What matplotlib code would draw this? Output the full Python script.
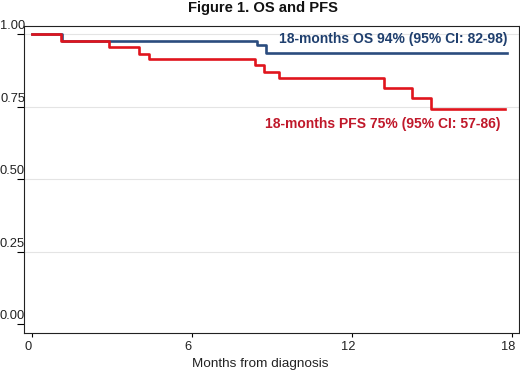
import matplotlib
matplotlib.use("Agg")
import matplotlib.pyplot as plt
import matplotlib.transforms as mtransforms

plt.rcParams["font.family"] = ["Liberation Sans", "DejaVu Sans"]

# Kaplan-Meier steps (months, survival)
os_months = [0, 1.12, 8.43, 8.77, 17.8]
os_surv = [1.0, 0.977, 0.964, 0.936, 0.936]
pfs_months = [0, 1.07, 2.9, 4.02, 4.4, 8.36, 8.71, 9.26, 13.2, 14.24, 14.95, 17.72]
pfs_surv = [1.0, 0.977, 0.956, 0.933, 0.914, 0.893, 0.870, 0.849, 0.814, 0.779, 0.743, 0.743]

x_ticks = [0, 6, 12, 18]
y_ticks = [0.0, 0.25, 0.5, 0.75, 1.0]
y_ticklabels = ["0.00", "0.25", "0.50", "0.75", "1.00"]

os_label = "18-months OS 94% (95% CI: 82-98)"
pfs_label = "18-months PFS 75% (95% CI: 57-86)"

BLUE, RED = "#2b4c7e", "#e0151d"

fig = plt.figure(figsize=(5.2, 3.72), dpi=100)
ax = fig.add_axes([24 / 520, 39 / 372, 495 / 520, 307 / 372])

for y in y_ticks[1:]:
    ax.axhline(y, color="#e4e4e4", lw=0.8, zorder=0)

ax.step(os_months, os_surv, where="post", color=BLUE, lw=1.9, zorder=2)
ax.step(pfs_months, pfs_surv, where="post", color=RED, lw=1.9, zorder=3)

ax.text(9.26, 0.982, os_label, color="#1f3f6e", fontsize=10, fontweight="bold",
        ha="left", va="center")
ax.text(8.74, 0.690, pfs_label, color="#c0182a", fontsize=10, fontweight="bold",
        ha="left", va="center")

ax.set_xlim(-0.3, 18.26)
ax.set_ylim(-0.030, 1.028)
ax.set_xticks(x_ticks)
ax.set_yticks(y_ticks)
ax.set_yticklabels(y_ticklabels)
ax.tick_params(axis="y", direction="out", length=5, width=0.8, pad=-5.8,
               labelsize=9.3, labelcolor="#222222")
ax.tick_params(axis="x", direction="out", length=3, width=0.8, pad=3,
               labelsize=9.3, labelcolor="#222222")
for lab in ax.get_yticklabels():
    lab.set_va("bottom")
    lab.set_transform(lab.get_transform() + mtransforms.ScaledTranslation(0, 2 / 100, fig.dpi_scale_trans))
for lab in ax.get_xticklabels():
    lab.set_transform(lab.get_transform() + mtransforms.ScaledTranslation(-4 / 100, 0, fig.dpi_scale_trans))
for s in ax.spines.values():
    s.set_linewidth(0.8)
    s.set_color("#222222")

ax.set_xlabel("Months from diagnosis", fontsize=9.7, color="#222222")
ax.xaxis.set_label_coords(0.477, -0.101)
ax.xaxis.label.set_va("center")

fig.text(263 / 520, 1 - 8 / 372, "Figure 1. OS and PFS", fontsize=10.6,
         fontweight="bold", ha="center", va="center", color="#111111")

fig.savefig("out.png", dpi=100)
